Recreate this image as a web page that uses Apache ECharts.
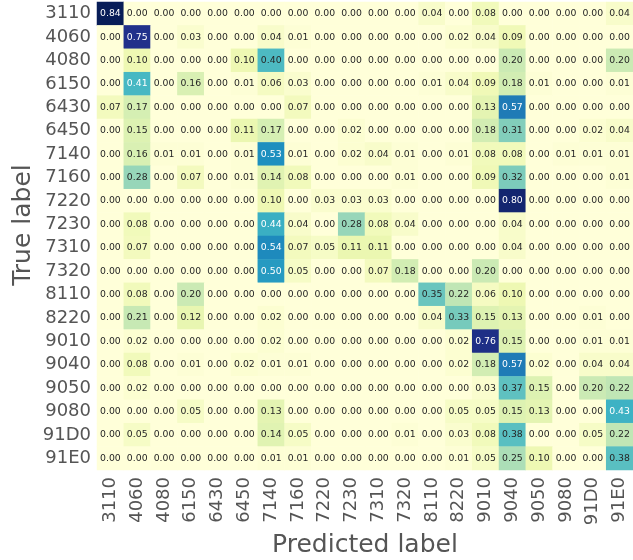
<!DOCTYPE html>
<html>
<head>
<meta charset="utf-8">
<script src="https://cdn.jsdelivr.net/npm/echarts@6/dist/echarts.min.js"></script>
<style>
  html, body { margin: 0; padding: 0; background: #fff; }
  #chart { width: 633px; height: 560px; }
</style>
</head>
<body>
<div id="chart"></div>
<script>
// class labels (both axes)
const labels = ["3110", "4060", "4080", "6150", "6430", "6450", "7140", "7160", "7220", "7230",
  "7310", "7320", "8110", "8220", "9010", "9040", "9050", "9080", "91D0", "91E0"];

// normalized confusion matrix, one row per true label
const row3110 = [0.84, 0, 0, 0, 0, 0, 0, 0, 0, 0, 0, 0, 0.04, 0, 0.08, 0, 0, 0, 0, 0.04];
const row4060 = [0, 0.75, 0, 0.03, 0, 0, 0.04, 0.01, 0, 0, 0, 0, 0, 0.02, 0.04, 0.09, 0, 0, 0, 0];
const row4080 = [0, 0.10, 0, 0, 0, 0.10, 0.40, 0, 0, 0, 0, 0, 0, 0, 0, 0.20, 0, 0, 0, 0.20];
const row6150 = [0, 0.41, 0, 0.16, 0, 0.01, 0.06, 0.03, 0, 0, 0, 0, 0.01, 0.04, 0.09, 0.18, 0.01, 0, 0, 0.01];
const row6430 = [0.07, 0.17, 0, 0, 0, 0, 0, 0.07, 0, 0, 0, 0, 0, 0, 0.13, 0.57, 0, 0, 0, 0];
const row6450 = [0, 0.15, 0, 0, 0, 0.11, 0.17, 0, 0, 0.02, 0, 0, 0, 0, 0.18, 0.31, 0, 0, 0.02, 0.04];
const row7140 = [0, 0.16, 0.01, 0.01, 0, 0.01, 0.53, 0.01, 0, 0.02, 0.04, 0.01, 0, 0.01, 0.08, 0.08, 0, 0.01, 0.01, 0.01];
const row7160 = [0, 0.28, 0, 0.07, 0, 0.01, 0.14, 0.08, 0, 0, 0, 0.01, 0, 0, 0.09, 0.32, 0, 0, 0, 0.01];
const row7220 = [0, 0, 0, 0, 0, 0, 0.10, 0, 0.03, 0.03, 0.03, 0, 0, 0, 0, 0.80, 0, 0, 0, 0];
const row7230 = [0, 0.08, 0, 0, 0, 0, 0.44, 0.04, 0, 0.28, 0.08, 0.04, 0, 0, 0, 0.04, 0, 0, 0, 0];
const row7310 = [0, 0.07, 0, 0, 0, 0, 0.54, 0.07, 0.05, 0.11, 0.11, 0, 0, 0, 0, 0.04, 0, 0, 0, 0];
const row7320 = [0, 0, 0, 0, 0, 0, 0.50, 0.05, 0, 0, 0.07, 0.18, 0, 0, 0.20, 0, 0, 0, 0, 0];
const row8110 = [0, 0.08, 0, 0.20, 0, 0, 0, 0, 0, 0, 0, 0, 0.35, 0.22, 0.06, 0.10, 0, 0, 0, 0];
const row8220 = [0, 0.21, 0, 0.12, 0, 0, 0.02, 0, 0, 0, 0, 0, 0.04, 0.33, 0.15, 0.13, 0, 0, 0.01, 0];
const row9010 = [0, 0.02, 0, 0, 0, 0, 0.02, 0, 0, 0, 0, 0, 0, 0.02, 0.76, 0.15, 0, 0, 0.01, 0.01];
const row9040 = [0, 0.08, 0, 0.01, 0, 0.02, 0.01, 0.01, 0, 0, 0, 0, 0, 0.02, 0.18, 0.57, 0.02, 0, 0.04, 0.04];
const row9050 = [0, 0.02, 0, 0, 0, 0, 0, 0, 0, 0, 0, 0, 0, 0, 0.03, 0.37, 0.15, 0, 0.20, 0.22];
const row9080 = [0, 0, 0, 0.05, 0, 0, 0.13, 0, 0, 0, 0, 0, 0, 0.05, 0.05, 0.15, 0.13, 0, 0, 0.43];
const row91D0 = [0, 0.05, 0, 0, 0, 0, 0.14, 0.05, 0, 0, 0, 0.01, 0, 0.03, 0.08, 0.38, 0, 0, 0.05, 0.22];
const row91E0 = [0, 0, 0, 0, 0, 0, 0.01, 0.01, 0, 0, 0, 0, 0, 0.01, 0.05, 0.25, 0.10, 0, 0, 0.38];

const matrix = [row3110, row4060, row4080, row6150, row6430, row6450, row7140, row7160, row7220, row7230,
  row7310, row7320, row8110, row8220, row9010, row9040, row9050, row9080, row91D0, row91E0];

// YlGnBu
const colors = ["#ffffd9", "#edf8b1", "#c7e9b4", "#7fcdbb", "#41b6c4", "#1d91c0", "#225ea8", "#253494", "#081d58"];
const vmax = 0.84;

const font = "DejaVu Sans";
const grey = "#555555";

let data = [];
matrix.forEach((row, i) => {
  row.forEach((v, j) => {
    data.push({
      value: [j, i, v],
      label: { color: v > 0.405 ? "#ffffff" : "#262626" }
    });
  });
});

let chart = echarts.init(document.getElementById("chart"));

let option = {
  animation: false,
  grid: {
    left: 97,
    right: 0,
    top: 2,
    bottom: 90,
    outerBoundsMode: "none"
  },
  // y axis title placed by hand, it sits a bit above the grid middle
  graphic: [
    {
      type: "text",
      x: 23,
      y: 225,
      rotation: Math.PI / 2,
      style: {
        text: "True label",
        fontFamily: font,
        fontSize: 25,
        fill: grey,
        align: "center",
        verticalAlign: "middle"
      }
    }
  ],
  xAxis: {
    type: "category",
    data: labels,
    name: "Predicted label",
    nameLocation: "middle",
    nameGap: 61,
    nameTextStyle: { fontFamily: font, fontSize: 25, color: grey },
    axisLine: { show: false },
    axisTick: { show: false },
    splitArea: { show: false },
    axisLabel: {
      rotate: 90,
      margin: 7,
      fontFamily: font,
      fontSize: 18,
      color: grey,
      interval: 0
    }
  },
  yAxis: {
    type: "category",
    data: labels,
    inverse: true,
    axisLine: { show: false },
    axisTick: { show: false },
    splitArea: { show: false },
    axisLabel: {
      margin: 6,
      fontFamily: font,
      fontSize: 18,
      color: grey,
      interval: 0
    }
  },
  visualMap: {
    show: false,
    min: 0,
    max: vmax,
    dimension: 2,
    inRange: { color: colors }
  },
  series: [
    {
      type: "heatmap",
      data: data,
      label: {
        show: true,
        fontFamily: font,
        fontSize: 9.3,
        formatter: p => p.value[2].toFixed(2)
      },
      itemStyle: { borderWidth: 0 },
      emphasis: { disabled: true }
    }
  ]
};

chart.setOption(option);
</script>
</body>
</html>
